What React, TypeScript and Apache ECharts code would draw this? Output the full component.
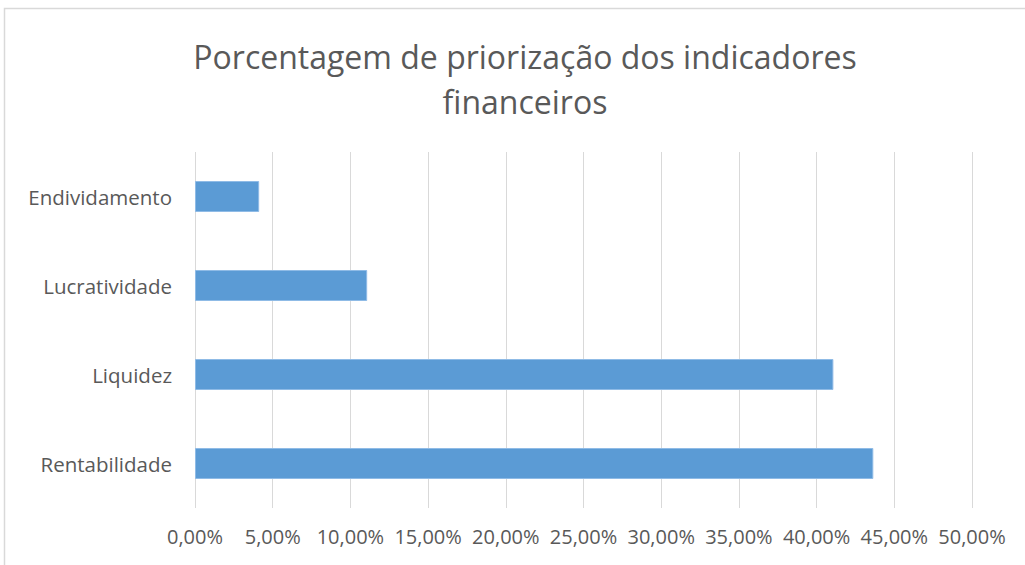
import React, { useEffect, useRef } from "react";
import * as echarts from "echarts";

const categories = ["Rentabilidade", "Liquidez", "Lucratividade", "Endividamento"];
const values = [0.4365, 0.4108, 0.1108, 0.0413];
const titleText = "Porcentagem de priorização dos indicadores\nfinanceiros";

const fmt = (v: number) => (v * 100).toFixed(2).replace(".", ",") + "%";

export default function App() {
  const ref = useRef<HTMLDivElement>(null);
  useEffect(() => {
    const chart = echarts.init(ref.current!, undefined, { renderer: "svg" });
    chart.setOption({
      animation: false,
      backgroundColor: "#ffffff",
      textStyle: { fontFamily: "Open Sans" },
      title: {
        text: titleText,
        left: 520,
        textAlign: "center",
        top: 29,
        textStyle: {
          fontFamily: "Open Sans",
          fontSize: 32,
          fontWeight: "normal",
          color: "#595959",
          lineHeight: 45,
        },
      },
      graphic: [
        {
          type: "rect",
          shape: { x: 4.5, y: 8.5, width: 1030, height: 600 },
          style: { fill: "none", stroke: "#d9d9d9", lineWidth: 1.5 },
          silent: true,
        },
      ],
      grid: { left: 195, right: 53, top: 152, bottom: 57, containLabel: false },
      xAxis: {
        type: "value",
        min: 0,
        max: 0.5,
        interval: 0.05,
        axisLine: { show: false },
        axisTick: { show: false },
        splitLine: { show: true, lineStyle: { color: "#d9d9d9", width: 1 } },
        axisLabel: {
          formatter: (v: number) => fmt(v),
          color: "#595959",
          fontSize: 20,
          margin: 18,
          fontFamily: "Open Sans",
        },
      },
      yAxis: {
        type: "category",
        data: categories,
        axisLine: { show: false },
        axisTick: { show: false },
        axisLabel: { color: "#595959", fontSize: 20.5, margin: 23, fontFamily: "Open Sans" },
      },
      series: [
        {
          type: "bar",
          data: values,
          barWidth: 31,
          itemStyle: { color: "#5b9bd5", borderColor: "#8fbbe6", borderWidth: 1 },
        },
      ],
    });
    return () => chart.dispose();
  }, []);
  return (
    <div
      ref={ref}
      style={{ position: "absolute", left: 0, top: 0, width: 1025, height: 565 }}
    />
  );
}
